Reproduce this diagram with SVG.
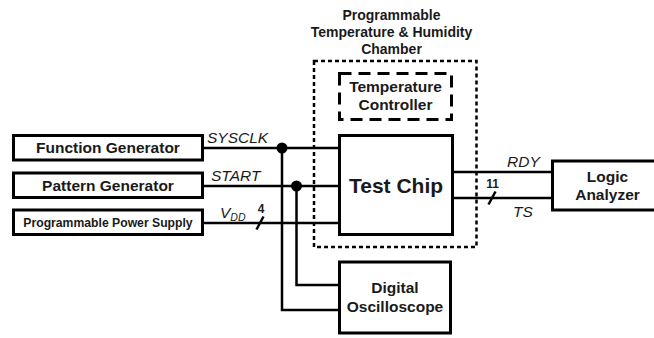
<svg xmlns="http://www.w3.org/2000/svg" width="654" height="338" viewBox="0 0 654 338">
  <style>
    .box { fill: #fff; stroke: #000; stroke-width: 3; }
    .wire { fill: none; stroke: #000; stroke-width: 2.5; }
    .lbl { font-family: "Liberation Sans", Arial, sans-serif; font-weight: bold; fill: #1a1a1a; text-anchor: middle; }
    .sig { font-family: "Liberation Sans", Arial, sans-serif; font-style: italic; font-size: 15.5px; fill: #1a1a1a; }
    .bus { font-family: "Liberation Sans", Arial, sans-serif; font-weight: bold; font-size: 12px; fill: #1a1a1a; text-anchor: middle; }
  </style>
  <rect width="654" height="338" fill="#fff"/>

  <!-- environmental chamber enclosure -->
  <g id="chamber">
    <rect x="314" y="61" width="162.5" height="186" fill="none" stroke="#000" stroke-width="2.5" stroke-dasharray="4 3"/>
    <text class="lbl" font-size="14" x="391.5" y="20">Programmable</text>
    <text class="lbl" font-size="14" x="391.5" y="37">Temperature &amp; Humidity</text>
    <text class="lbl" font-size="14" x="391.5" y="54">Chamber</text>
  </g>

  <g id="temp-controller">
    <rect x="339.5" y="73.5" width="112" height="46" fill="none" stroke="#000" stroke-width="3" stroke-dasharray="12 7"/>
    <text class="lbl" font-size="15.5" x="395.5" y="92">Temperature</text>
    <text class="lbl" font-size="15.5" x="395.5" y="110">Controller</text>
  </g>

  <!-- wiring -->
  <g id="connectors">
    <path class="wire" d="M203 148 H339"/>
    <path class="wire" d="M203 186 H339"/>
    <path class="wire" d="M203 223 H339"/>
    <path class="wire" d="M282 148 V310 H339"/>
    <path class="wire" d="M296.5 186 V285 H339"/>
    <path class="wire" d="M453 172 H552"/>
    <path class="wire" d="M453 198 H552"/>
    <circle cx="282" cy="148" r="5.5" fill="#000"/>
    <circle cx="296.5" cy="186" r="5.5" fill="#000"/>
    <!-- bus width ticks -->
    <path class="wire" d="M256.5 229.5 L263.5 216.5"/>
    <path class="wire" d="M488.5 204.5 L495.5 191.5"/>
    <text class="sig" x="207" y="143">SYSCLK</text>
    <text class="sig" x="211" y="181">START</text>
    <text class="sig" x="220" y="218">V<tspan font-size="10.5" dy="3">DD</tspan></text>
    <text class="bus" x="261" y="213">4</text>
    <text class="sig" x="507" y="167">RDY</text>
    <text class="sig" x="513" y="217">TS</text>
    <text class="bus" x="492.5" y="188">11</text>
  </g>

  <g id="function-generator">
    <rect class="box" x="13.5" y="135.5" width="189" height="24.5"/>
    <text class="lbl" font-size="15.5" x="108" y="153">Function Generator</text>
  </g>

  <g id="pattern-generator">
    <rect class="box" x="13.5" y="173" width="189" height="24.5"/>
    <text class="lbl" font-size="15.5" x="108" y="190.5">Pattern Generator</text>
  </g>

  <g id="power-supply">
    <rect class="box" x="13.5" y="210" width="189" height="24.5"/>
    <text class="lbl" font-size="12.2" x="108" y="226.5">Programmable Power Supply</text>
  </g>

  <g id="test-chip">
    <rect class="box" x="339.5" y="135.5" width="113" height="99"/>
    <text class="lbl" font-size="21" x="396" y="192.5">Test Chip</text>
  </g>

  <g id="logic-analyzer">
    <rect class="box" x="552.5" y="161" width="112" height="49"/>
    <text class="lbl" font-size="15.5" x="607.5" y="182">Logic</text>
    <text class="lbl" font-size="15.5" x="607.5" y="200">Analyzer</text>
  </g>

  <g id="oscilloscope">
    <rect class="box" x="339.5" y="262" width="111" height="71"/>
    <text class="lbl" font-size="15.5" x="395" y="293">Digital</text>
    <text class="lbl" font-size="15.5" x="395" y="312">Oscilloscope</text>
  </g>
</svg>
